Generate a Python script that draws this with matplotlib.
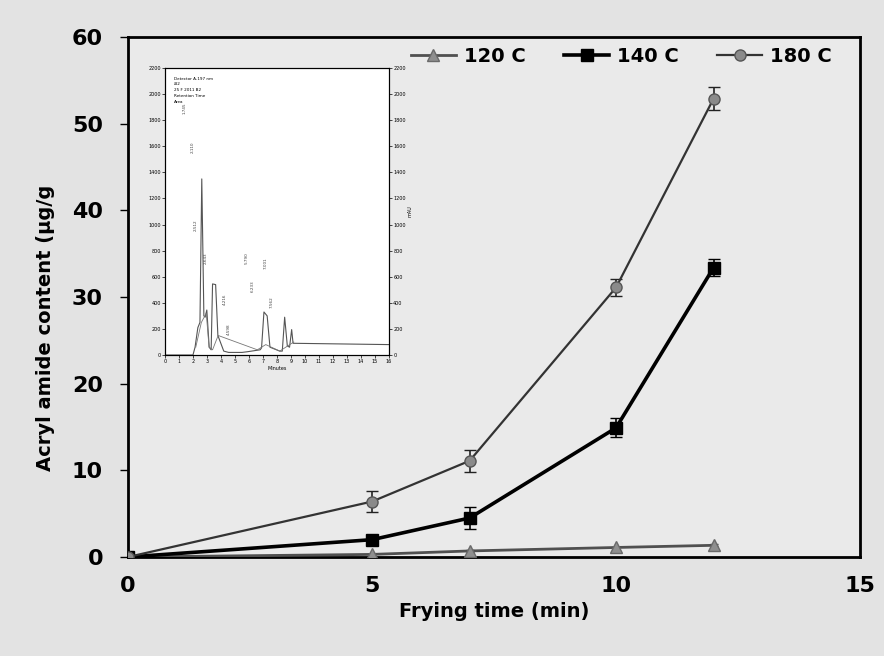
import matplotlib
matplotlib.use("Agg")
import matplotlib.pyplot as plt

# Main data (frying time in min, acrylamide in ug/g)
times = [0, 5, 7, 10, 12]
acr_120 = [0.0, 0.3, 0.7, 1.1, 1.35]
acr_140 = [0.0, 2.0, 4.5, 14.9, 33.4]
acr_180 = [0.0, 6.4, 11.1, 31.1, 52.9]
err_140 = [0.0, 0.3, 1.3, 1.1, 1.0]
err_180 = [0.0, 1.2, 1.3, 1.0, 1.3]
err_120 = [0.0, 0.1, 0.1, 0.1, 0.1]

# Inset chromatogram trace (minutes, signal)
chrom_t = [0.0, 2.0, 2.15, 2.35, 2.5, 2.63, 2.78, 2.87, 2.99, 3.16,
           3.3, 3.4, 3.62, 3.78, 4.2, 4.55, 5.5, 5.87, 6.8, 6.9, 7.07,
           7.3, 7.5, 8.2, 8.38, 8.55, 8.74, 8.9, 9.05, 9.15, 16.0]
chrom_y = [0, 0, 60, 210, 250, 1350, 300, 290, 345, 60,
           40, 545, 540, 150, 30, 20, 20, 25, 40, 55, 330,
           300, 60, 30, 30, 290, 70, 60, 195, 90, 80]
base_t = [2.2, 2.6, 2.95, 3.15, 3.4, 3.8, 6.6, 7.2, 8.2, 9.2]
base_y = [60, 250, 320, 60, 40, 150, 40, 80, 30, 100]
peak_labels = ["1.745", "2.110", "2.512", "2.643", "4.216",
               "4.598", "5.790", "6.233", "7.001", "7.562"]
peak_label_t = [1.4, 1.95, 2.2, 2.9, 4.3, 4.6, 5.8, 6.3, 7.2, 7.6]
peak_label_y = [1850, 1550, 950, 700, 380, 150, 700, 480, 660, 360]

fig = plt.figure(figsize=(8.84, 6.56), dpi=100, facecolor="#e3e3e3")
ax = fig.add_axes([0.1448, 0.1509, 0.8281, 0.7927], facecolor="#eaeaea")

# error bars first, then lines with markers (used for the legend)
ax.errorbar(times, acr_120, yerr=err_120, fmt="none", ecolor="#444444",
            elinewidth=1, capsize=3, zorder=3)
ax.errorbar(times, acr_140, yerr=err_140, fmt="none", ecolor="black",
            elinewidth=1.2, capsize=4, zorder=4)
ax.errorbar(times, acr_180, yerr=err_180, fmt="none", ecolor="#222222",
            elinewidth=1.2, capsize=4, zorder=5)
ax.plot(times, acr_120, color="#505050", lw=2, marker="^", ms=8,
        mfc="#8f8f8f", mec="#6a6a6a", label="120 C", zorder=3)
ax.plot(times, acr_140, color="black", lw=2.6, marker="s", ms=8,
        mfc="black", mec="black", label="140 C", zorder=4)
ax.plot(times, acr_180, color="#333333", lw=1.6, marker="o", ms=8,
        mfc="#8a8a8a", mec="#555555", label="180 C", zorder=5)

ax.set_xlim(0, 15)
ax.set_ylim(0, 60)
ax.set_xticks([0, 5, 10, 15])
ax.set_yticks(range(0, 61, 10))
for s in ax.spines.values():
    s.set_linewidth(2)
    s.set_color("black")
ax.tick_params(axis="y", direction="out", length=6, width=1, pad=12,
               labelsize=16)
ax.tick_params(axis="x", direction="out", length=0, pad=14, labelsize=16)
for lab in ax.get_xticklabels() + ax.get_yticklabels():
    lab.set_fontweight("bold")

ax.set_xlabel("Frying time (min)", fontsize=14, fontweight="bold", labelpad=4)
ax.set_ylabel("Acryl amide content (\u00b5g/g", fontsize=14, fontweight="bold",
              labelpad=12)
ax.yaxis.set_label_coords(-0.1, 0.44)

ax.legend(loc="upper right", bbox_to_anchor=(0.985, 1.015), ncol=3,
          frameon=False, handlelength=2.3, handletextpad=0.4,
          columnspacing=2.0, prop={"size": 14, "weight": "bold"})

# Inset chromatogram
ins = fig.add_axes([0.1866, 0.4588, 0.2534, 0.4375], facecolor="white")
ins.plot(chrom_t, chrom_y, color="#555555", lw=0.8)
ins.plot(base_t, base_y, color="#777777", lw=0.6)
for t, y, s in zip(peak_label_t, peak_label_y, peak_labels):
    ins.text(t, y, s, rotation=90, fontsize=3, color="#444444",
             ha="center", va="bottom")
ins.set_xlim(0, 16)
ins.set_ylim(0, 2200)
ins.set_xticks(range(0, 17))
ins.set_yticks(range(0, 2201, 200))
ins.tick_params(labelsize=3.5, length=2, width=0.5, pad=1)
for s in ins.spines.values():
    s.set_linewidth(0.8)
ins.set_xlabel("Minutes", fontsize=3.5, labelpad=1)
ins.text(0.04, 0.97, "Detector A-197 nm\n-B2\n25 F 2011 B2\nRetention Time\nArea",
         transform=ins.transAxes, fontsize=3, va="top", linespacing=1.6)
ins_r = ins.twinx()
ins_r.set_ylim(0, 2200)
ins_r.set_yticks(range(0, 2201, 200))
ins_r.tick_params(labelsize=3.5, length=2, width=0.5, pad=1)
ins_r.set_ylabel("mAU", fontsize=3.5, labelpad=1)

fig.savefig("out.png", dpi=100, facecolor=fig.get_facecolor())
